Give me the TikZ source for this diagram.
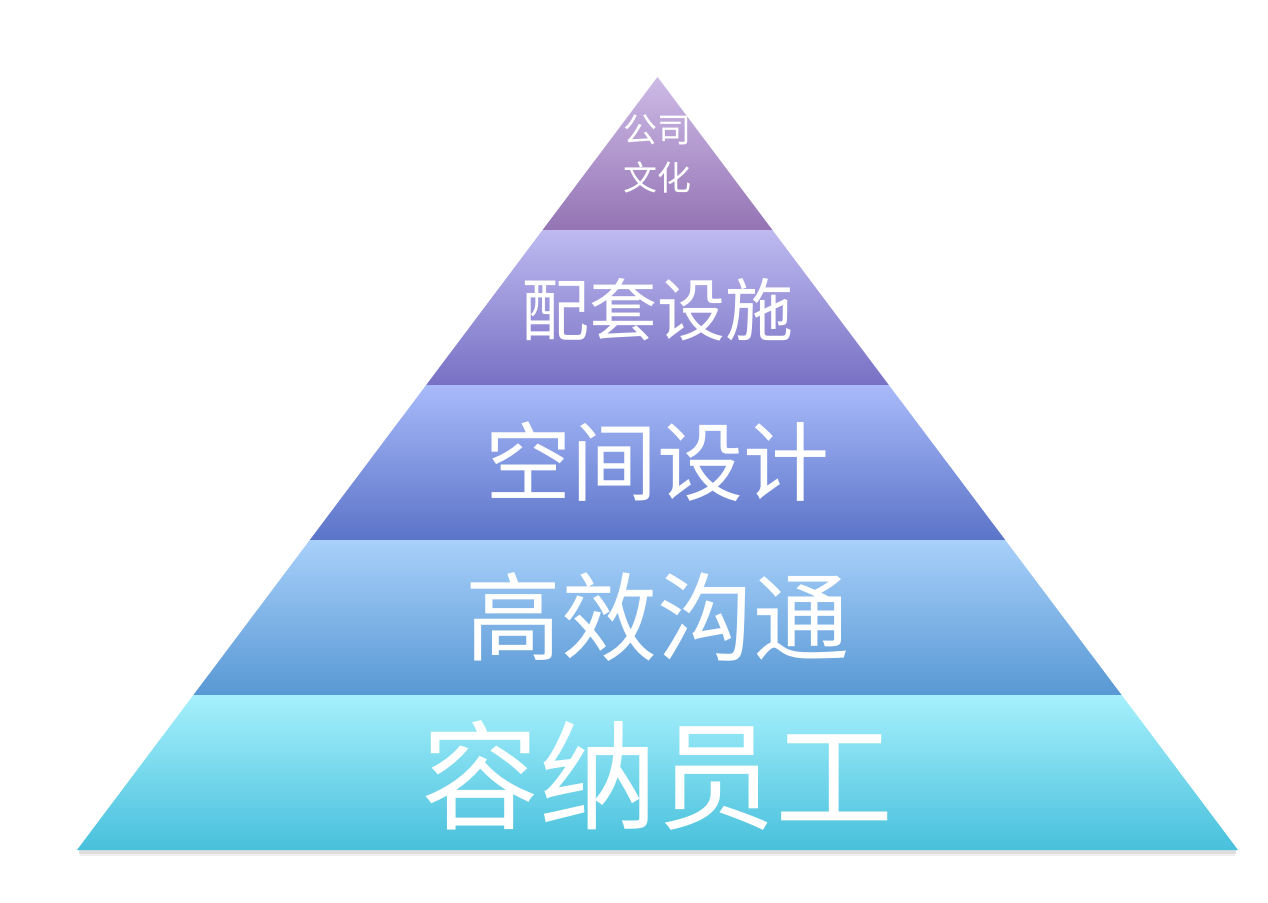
\documentclass[tikz,border=0pt]{standalone}
\usepackage{fontspec}
\newfontfamily\cjk{Noto Sans CJK SC}
\begin{document}
\begin{tikzpicture}[x=0.5pt,y=-0.5pt,
  lbl/.style={text=white,font=\cjk,inner sep=0pt,align=center}]
\useasboundingbox (0,0) rectangle (1268,902);
\fill[white] (0,0) rectangle (1268,902);
% apex (657.5,77), base y=850 half width 580.5
\coordinate (A) at (657.5,77);
% shadow
\fill[black!25,opacity=0.5] (79,850) rectangle (1236,854);
\fill[black!15,opacity=0.4] (80,854) rectangle (1235,856);
% layers
\shade[top color={rgb,255:red,205;green,186;blue,230},bottom color={rgb,255:red,148;green,116;blue,180}]
  (A) -- (772.4,230) -- (542.6,230) -- cycle;
\shade[top color={rgb,255:red,190;green,186;blue,240},bottom color={rgb,255:red,120;green,112;blue,196}]
  (542.6,230) -- (772.4,230) -- (888.8,385) -- (426.2,385) -- cycle;
\shade[top color={rgb,255:red,168;green,186;blue,250},bottom color={rgb,255:red,92;green,116;blue,200}]
  (426.2,385) -- (888.8,385) -- (1005.2,540) -- (309.8,540) -- cycle;
\shade[top color={rgb,255:red,168;green,208;blue,250},bottom color={rgb,255:red,88;green,152;blue,212}]
  (309.8,540) -- (1005.2,540) -- (1121.6,695) -- (193.4,695) -- cycle;
\shade[top color={rgb,255:red,166;green,240;blue,252},bottom color={rgb,255:red,72;green,192;blue,220}]
  (193.4,695) -- (1121.6,695) -- (1238,850) -- (77,850) -- cycle;
% labels
\node[lbl,font=\cjk\fontsize{17pt}{24pt}\selectfont] (t1) at (657,154) {公司\\文化};
\node[lbl,font=\cjk\fontsize{34pt}{40pt}\selectfont] (t2) at (657,310) {配套设施};
\node[lbl,font=\cjk\fontsize{43pt}{50pt}\selectfont] (t3) at (657,462) {空间设计};
\node[lbl,font=\cjk\fontsize{48pt}{56pt}\selectfont] (t4) at (657,617) {高效沟通};
\node[lbl,font=\cjk\fontsize{59pt}{66pt}\selectfont] (t5) at (657,775) {容纳员工};
\end{tikzpicture}
\end{document}
